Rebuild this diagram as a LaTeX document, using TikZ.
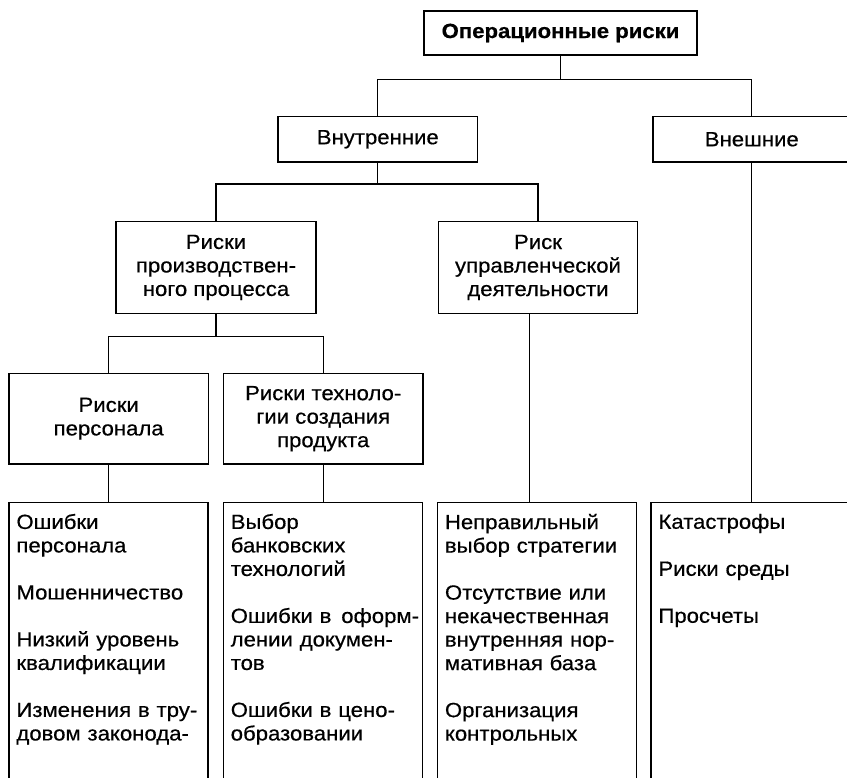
\documentclass[tikz,border=0pt]{standalone}
\usepackage{fontspec}
\setmainfont[FakeStretch=1.08,FakeBold=0.5]{Liberation Sans}
\newcommand\diafont{\fontsize{20.5}{23.5}\selectfont}
\begin{document}
\begin{tikzpicture}[x=1pt,y=-1pt,
  box/.style={draw, line width=1.5pt, rectangle, inner sep=0pt, align=center, font=\diafont},
  bbox/.style={draw, line width=1.5pt, rectangle, inner sep=0pt, minimum width=199pt, minimum height=300pt, anchor=north},
  btext/.style={anchor=north west, inner xsep=8pt, inner ysep=12pt, align=left, text width=195pt, font=\diafont},
  conn/.style={line width=1.3pt}]
\useasboundingbox (0,0) rectangle (847,778);

\node[box, minimum width=273pt, minimum height=44.3pt, font=\diafont\bfseries] (top) at (560.5,33) {Операционные риски};
\node[box, minimum width=199.5pt, minimum height=45.3pt] (vnutr) at (377.8,139.3) {Внутренние};
\node[box, minimum width=198pt, minimum height=45.3pt] (vnesh) at (751.8,139.3) {Внешние};
\node[box, minimum width=200pt, minimum height=91.6pt] (proizv) at (216,267.5) {Риски\\производствен-\\ного процесса};
\node[box, minimum width=199pt, minimum height=91.6pt] (uprav) at (538,267.5) {Риск\\управленческой\\деятельности};
\node[box, minimum width=199.3pt, minimum height=90.7pt] (pers) at (108.7,418.7) {Риски\\персонала};
\node[box, minimum width=199.5pt, minimum height=90.7pt] (tech) at (323.2,418.7) {Риски техноло-\\гии создания\\продукта};

\node[bbox] (b1) at (108.5,501.7) {};
\node[bbox] (b2) at (322.8,501.7) {};
\node[bbox] (b3) at (537,501.7) {};
\node[bbox] (b4) at (750.5,501.7) {};

\node[btext] (b1t) at (b1.north west) {Ошибки\\персонала\\[23.5pt]Мошенничество\\[23.5pt]Низкий уровень\\квалификации\\[23.5pt]Изменения в тру-\\довом законода-};
\node[btext] (b2t) at (b2.north west) {Выбор\\банковских\\технологий\\[23.5pt]Ошибки в\kern3pt\ оформ-\\лении докумен-\\тов\\[23.5pt]Ошибки в цено-\\образовании};
\node[btext] (b3t) at (b3.north west) {Неправильный\\выбор стратегии\\[23.5pt]Отсутствие или\\некачественная\\внутренняя нор-\\мативная база\\[23.5pt]Организация\\контрольных};
\node[btext] (b4t) at (b4.north west) {Катастрофы\\[23.5pt]Риски среды\\[23.5pt]Просчеты};

\draw[conn] (top.south) -- ++(0,23.3) coordinate (j1);
\draw[conn] (vnutr.north) |- (j1) -| (vnesh.north);
\draw[conn] (vnutr.south) -- ++(0,21.3) coordinate (j2);
\draw[conn] (proizv.north) |- (j2) -| (uprav.north);
\draw[conn] (proizv.south) -- ++(0,22.4) coordinate (j3);
\draw[conn] (pers.north) |- (j3) -| (tech.north);
\draw[conn] (pers.south) -- (pers.south |- b1.north);
\draw[conn] (tech.south) -- (tech.south |- b2.north);
\draw[conn] ([xshift=-8.6pt]uprav.south) -- ([xshift=-8.6pt]uprav.south |- b3.north);
\draw[conn] (vnesh.south) -- (vnesh.south |- b4.north);
\end{tikzpicture}
\end{document}
